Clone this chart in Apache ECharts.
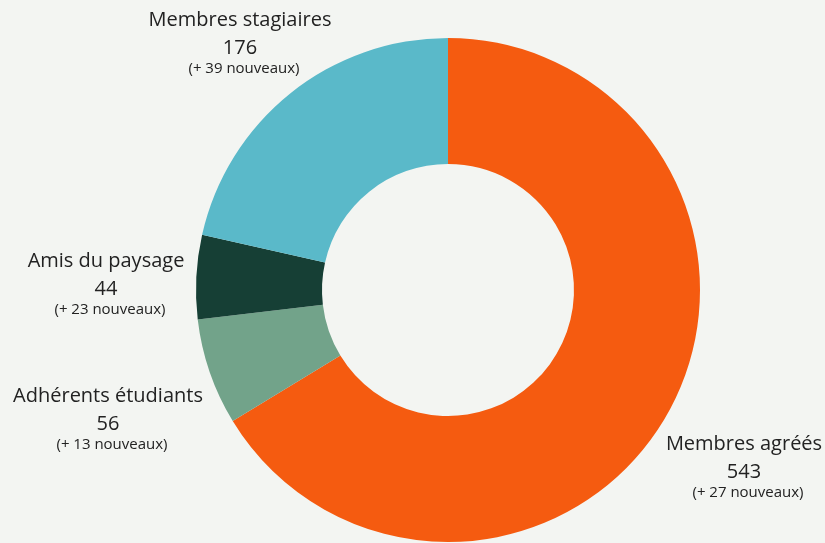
<!DOCTYPE html>
<html>
<head>
<meta charset="utf-8">
<script src="https://cdn.jsdelivr.net/npm/echarts@6/dist/echarts.min.js"></script>
<style>
html,body{margin:0;padding:0;background:#f3f5f2;}
#chart{width:825px;height:543px;}
</style>
</head>
<body>
<div id="chart"></div>
<script>
const categories = ['Membres agréés', 'Adhérents étudiants', 'Amis du paysage', 'Membres stagiaires'];
const counts = [543, 56, 44, 176];
const newCounts = [27, 13, 23, 39];

const palette = ['#f55b10', '#72a38a', '#163f35', '#5ab9c9'];
const labelSpots = [[744, 428], [108, 380], [106, 245], [240, 4]];

const chart = echarts.init(document.getElementById('chart'));
chart.setOption({
  backgroundColor: '#f3f5f2',
  animation: false,
  series: [{
    type: 'pie',
    center: [448, 290],
    radius: [126, 252],
    startAngle: 90,
    clockwise: true,
    data: categories.map((c, i) => ({
      name: c,
      value: counts[i],
      extra: newCounts[i],
      itemStyle: { color: palette[i] }
    })),
    itemStyle: { borderWidth: 0 },
    emphasis: { disabled: true },
    labelLine: { show: false },
    label: {
      show: true,
      position: 'outside',
      align: 'center',
      overflow: 'none',
      fontFamily: 'Open Sans',
      color: '#222',
      formatter: p => '{n|' + p.name + '}\n{v|' + p.value + '}\n{s|(+ ' + p.data.extra + ' nouveaux)}',
      rich: {
        n: { fontSize: 20, lineHeight: 32, fontFamily: 'Open Sans', color: '#222', align: 'center' },
        v: { fontSize: 20, lineHeight: 25, fontFamily: 'Open Sans', color: '#222', align: 'center' },
        s: { fontSize: 15, lineHeight: 16, fontFamily: 'Open Sans', color: '#222', align: 'center', padding: [0, 0, 0, 8] }
      }
    },
    labelLayout: function (params) {
      const s = labelSpots[params.dataIndex];
      return { x: s[0], y: s[1], align: 'center', verticalAlign: 'top', width: 300 };
    }
  }]
});
</script>
</body>
</html>
